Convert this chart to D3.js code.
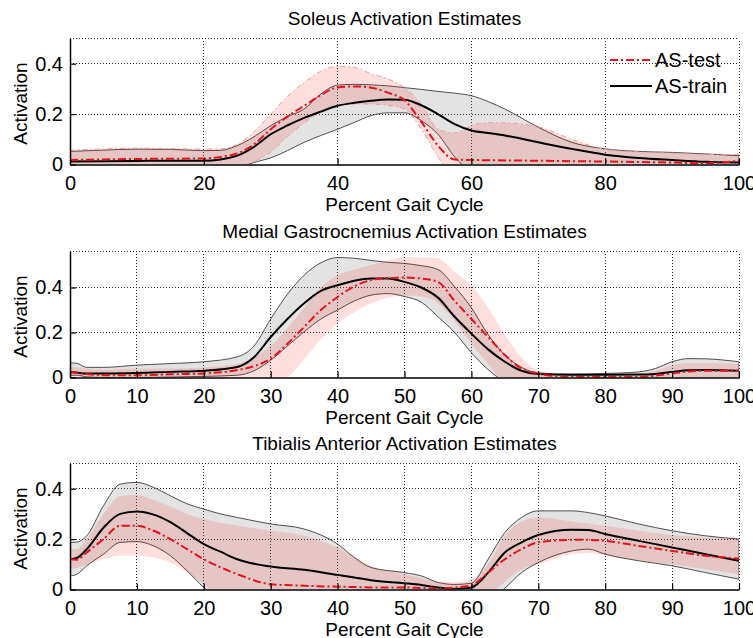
<!DOCTYPE html>
<html>
<head>
<meta charset="utf-8">
<script src="https://cdn.jsdelivr.net/npm/d3@7"></script>
<style>
  body { margin: 0; background: #fff; }
  svg text { font-family: "Liberation Sans", Arial, sans-serif; fill: #000; }
</style>
</head>
<body>
<div id="chart"></div>
<script>
// percent gait cycle sample points + mean / band edges

// Soleus
const soleusX = [0,5,10,15,20,22.5,25,27.5,30,32.5,35,37.5,40,42.5,45,47.5,50,52.5,55,57.5,60,62.5,65,70,75,80,85,90,95,100];
const soleusTrain = [0.012,0.013,0.014,0.015,0.015,0.02,0.035,0.07,0.12,0.155,0.185,0.21,0.233,0.245,0.253,0.258,0.257,0.235,0.2,0.16,0.135,0.125,0.115,0.088,0.062,0.039,0.026,0.018,0.011,0.008];
const soleusTrainUp = [0.052,0.057,0.061,0.06,0.055,0.056,0.075,0.11,0.154,0.19,0.22,0.28,0.315,0.318,0.316,0.312,0.305,0.298,0.29,0.283,0.273,0.25,0.22,0.148,0.088,0.062,0.052,0.048,0.042,0.035];
const soleusTrainLo = [-0.03,-0.03,-0.03,-0.03,-0.03,-0.025,-0.015,0.008,0.026,0.055,0.088,0.115,0.14,0.167,0.194,0.205,0.205,0.174,0.12,0.03,-0.03,-0.05,-0.06,-0.07,-0.06,-0.05,-0.04,-0.03,-0.03,-0.03];
const soleusTest = [0.018,0.02,0.022,0.023,0.024,0.03,0.044,0.08,0.14,0.19,0.233,0.275,0.306,0.31,0.305,0.285,0.255,0.17,0.075,0.02,0.018,0.017,0.016,0.015,0.013,0.012,0.01,0.008,0.005,0.015];
const soleusTestUp = [0.057,0.062,0.065,0.063,0.061,0.062,0.08,0.13,0.2,0.27,0.325,0.37,0.39,0.385,0.36,0.34,0.305,0.24,0.14,0.125,0.155,0.166,0.165,0.15,0.1,0.06,0.05,0.045,0.04,0.04];
const soleusTestLo = [-0.02,-0.02,-0.02,-0.02,-0.02,-0.02,-0.01,0.01,0.05,0.11,0.165,0.21,0.235,0.24,0.24,0.235,0.22,0.14,0.03,-0.05,-0.06,-0.06,-0.06,-0.06,-0.05,-0.05,-0.04,-0.04,-0.03,-0.01];

// Medial Gastrocnemius
const gastX = [0,1,2.5,5,10,15,20,25,27.5,30,32.5,35,37.5,40,42.5,45,47.5,50,52.5,55,57.5,60,62.5,65,67.5,70,75,80,85,87.5,90,92.5,95,100];
const gastTrain = [0.025,0.022,0.018,0.018,0.02,0.025,0.03,0.047,0.09,0.18,0.26,0.33,0.385,0.41,0.43,0.44,0.44,0.425,0.4,0.355,0.27,0.195,0.125,0.07,0.03,0.015,0.012,0.012,0.013,0.016,0.025,0.032,0.033,0.03];
const gastTrainUp = [0.065,0.063,0.045,0.045,0.055,0.062,0.07,0.092,0.14,0.26,0.37,0.455,0.51,0.533,0.53,0.52,0.512,0.507,0.497,0.48,0.403,0.31,0.19,0.1,0.045,0.02,0.015,0.018,0.025,0.04,0.07,0.084,0.083,0.07];
const gastTrainLo = [0.01,0.01,0.003,0,0,0.002,0.005,0.01,0.03,0.077,0.14,0.203,0.26,0.3,0.34,0.366,0.373,0.36,0.335,0.27,0.2,0.11,0.035,-0.02,-0.05,-0.05,-0.05,-0.04,-0.03,-0.02,-0.01,-0.005,-0.01,-0.01];
const gastTest = [0.024,0.02,0.015,0.01,0.01,0.014,0.018,0.033,0.05,0.084,0.15,0.225,0.3,0.358,0.405,0.433,0.442,0.444,0.44,0.425,0.34,0.26,0.18,0.1,0.04,0.018,0.002,0.002,0.002,0.008,0.018,0.027,0.03,0.03];
const gastTestUp = [0.05,0.045,0.04,0.035,0.04,0.04,0.045,0.06,0.09,0.14,0.22,0.31,0.4,0.455,0.48,0.5,0.52,0.535,0.535,0.53,0.47,0.41,0.31,0.19,0.09,0.03,0.01,0.01,0.015,0.03,0.055,0.065,0.065,0.06];
const gastTestLo = [-0.01,-0.01,-0.01,-0.015,-0.015,-0.015,-0.02,-0.02,-0.03,-0.03,0,0.08,0.17,0.24,0.29,0.33,0.355,0.365,0.36,0.33,0.25,0.15,0.06,-0.02,-0.03,-0.03,-0.02,-0.02,-0.02,-0.015,-0.01,-0.005,0,0];

// Tibialis Anterior
const tibX = [0,1,2.5,5,7.5,10,12.5,15,17.5,20,22.5,25,30,35,40,42.5,45,50,52.5,55,57.5,60,62.5,65,67.5,70,75,77.5,80,85,90,95,100];
const tibTrain = [0.12,0.125,0.16,0.245,0.3,0.31,0.297,0.267,0.224,0.18,0.15,0.12,0.091,0.078,0.058,0.048,0.037,0.025,0.018,0.008,0.002,0.008,0.067,0.147,0.187,0.216,0.237,0.236,0.22,0.193,0.167,0.14,0.114];
const tibTrainUp = [0.187,0.188,0.213,0.332,0.418,0.425,0.405,0.372,0.34,0.319,0.3,0.286,0.26,0.24,0.18,0.127,0.087,0.067,0.054,0.028,0.02,0.025,0.12,0.226,0.286,0.312,0.312,0.305,0.292,0.26,0.233,0.213,0.2];
const tibTrainLo = [0.054,0.06,0.094,0.14,0.187,0.19,0.173,0.134,0.074,0.008,-0.04,-0.06,-0.08,-0.08,-0.08,-0.08,-0.08,-0.08,-0.08,-0.08,-0.08,-0.08,-0.05,0.005,0.067,0.107,0.153,0.16,0.14,0.114,0.094,0.067,0.041];
const tibTest = [0.12,0.118,0.147,0.2,0.253,0.253,0.233,0.2,0.16,0.12,0.088,0.061,0.021,0.015,0.011,0.01,0.008,0.008,0.006,0.004,0.008,0.017,0.067,0.12,0.16,0.187,0.197,0.197,0.193,0.173,0.153,0.134,0.123];
const tibTestUp = [0.16,0.16,0.2,0.3,0.37,0.375,0.355,0.33,0.3,0.28,0.265,0.253,0.233,0.213,0.167,0.13,0.094,0.061,0.045,0.03,0.03,0.04,0.1,0.213,0.27,0.286,0.27,0.262,0.253,0.233,0.216,0.206,0.2];
const tibTestLo = [0.08,0.085,0.1,0.12,0.134,0.134,0.127,0.107,0.067,0.02,-0.03,-0.05,-0.05,-0.05,-0.05,-0.05,-0.05,-0.05,-0.05,-0.05,-0.05,-0.04,-0.02,0.03,0.08,0.1,0.14,0.145,0.135,0.115,0.1,0.08,0.06];

const titles = ["Soleus Activation Estimates", "Medial Gastrocnemius Activation Estimates", "Tibialis Anterior Activation Estimates"];
const xTicks20 = [0,20,40,60,80,100];
const xTicks10 = [0,10,20,30,40,50,60,70,80,90,100];
const yTicks = [0,0.2,0.4];
const yMaxes = [0.5, 0.56, 0.5];
const legendLabels = ["AS-test", "AS-train"];

const width = 753, height = 638;
const left = 70, right = 739, plotH = 126;
const tops = [38.5, 251.5, 463.5];
const font = "'Liberation Sans', Arial, sans-serif";

const RED = "#e8111a";

const panels = [
  { x: soleusX, tr: soleusTrain, trU: soleusTrainUp, trL: soleusTrainLo, te: soleusTest, teU: soleusTestUp, teL: soleusTestLo, xTicks: xTicks20, edge: true },
  { x: gastX, tr: gastTrain, trU: gastTrainUp, trL: gastTrainLo, te: gastTest, teU: gastTestUp, teL: gastTestLo, xTicks: xTicks10, edge: false },
  { x: tibX, tr: tibTrain, trU: tibTrainUp, trL: tibTrainLo, te: tibTest, teU: tibTestUp, teL: tibTestLo, xTicks: xTicks10, edge: false }
];

const svg = d3.select("#chart")
  .append("svg")
  .attr("width", width)
  .attr("height", height);

const x = d3.scaleLinear().domain([0, 100]).range([left, right]);

panels.forEach((p, i) => {
  const g = svg.append("g").attr("transform", `translate(0, ${tops[i]})`);
  const y = d3.scaleLinear().domain([0, yMaxes[i]]).range([plotH, 0]);

  g.append("clipPath")
    .attr("id", "clip" + i)
    .append("rect")
    .attr("x", x(0))
    .attr("y", y(yMaxes[i]))
    .attr("width", x(100) - x(0))
    .attr("height", y(0) - y(yMaxes[i]));

  // dotted grid + top/right border
  const grid = g.append("g")
    .attr("stroke", "#222")
    .attr("stroke-width", 1)
    .attr("stroke-dasharray", "1,2")
    .attr("shape-rendering", "crispEdges");
  p.xTicks.filter(v => v > 0).forEach(v => {
    grid.append("line").attr("x1", x(v)).attr("x2", x(v)).attr("y1", y(0)).attr("y2", y(yMaxes[i]));
  });
  yTicks.filter(v => v > 0).concat([yMaxes[i]]).forEach(v => {
    grid.append("line").attr("x1", x(0)).attr("x2", x(100)).attr("y1", y(v)).attr("y2", y(v));
  });

  const rows = p.x.map((v, k) => ({
    x: v, tr: p.tr[k], trU: p.trU[k], trL: p.trL[k], te: p.te[k], teU: p.teU[k], teL: p.teL[k]
  }));

  const curve = d3.curveMonotoneX;
  const plot = g.append("g").attr("clip-path", `url(#clip${i})`);

  // train band (gray, outlined)
  plot.append("path")
    .datum(rows)
    .attr("fill", "#808080")
    .attr("fill-opacity", 0.22)
    .attr("stroke", "#3c3c3c")
    .attr("stroke-width", 0.9)
    .attr("d", d3.area().curve(curve).x(d => x(d.x)).y0(d => y(d.trL)).y1(d => y(d.trU)));

  // test band (pink)
  plot.append("path")
    .datum(rows)
    .attr("fill", "#ff0000")
    .attr("fill-opacity", 0.13)
    .attr("d", d3.area().curve(curve).x(d => x(d.x)).y0(d => y(d.teL)).y1(d => y(d.teU)));

  if (p.edge) {
    ["teU", "teL"].forEach(k => {
      plot.append("path")
        .datum(rows)
        .attr("fill", "none")
        .attr("stroke", "#f19a9a")
        .attr("stroke-width", 1)
        .attr("stroke-dasharray", "5,3,1.5,3")
        .attr("d", d3.line().curve(curve).x(d => x(d.x)).y(d => y(d[k])));
    });
  }

  // means
  plot.append("path")
    .datum(rows)
    .attr("fill", "none")
    .attr("stroke", "#000")
    .attr("stroke-width", 2)
    .attr("d", d3.line().curve(curve).x(d => x(d.x)).y(d => y(d.tr)));

  plot.append("path")
    .datum(rows)
    .attr("fill", "none")
    .attr("stroke", RED)
    .attr("stroke-width", 2)
    .attr("stroke-dasharray", "8,3,2,3")
    .attr("d", d3.line().curve(curve).x(d => x(d.x)).y(d => y(d.te)));

  // axes (ticks point inward)
  const xAxis = g.append("g")
    .attr("transform", `translate(0, ${y(0)})`)
    .call(d3.axisBottom(x).tickValues(p.xTicks).tickSize(-6).tickSizeOuter(0).tickPadding(11));
  const yAxis = g.append("g")
    .attr("transform", `translate(${x(0)}, 0)`)
    .call(d3.axisLeft(y).tickValues(yTicks).tickFormat(d => d === 0 ? "0" : d3.format(".1f")(d))
      .tickSize(-6).tickSizeOuter(0).tickPadding(7));
  [xAxis, yAxis].forEach(a => {
    a.attr("font-family", font).attr("font-size", 20);
    a.select(".domain").attr("stroke", "#000").attr("stroke-width", 1.5);
    a.selectAll(".tick line").attr("stroke", "#000").attr("stroke-width", 1.2);
  });

  g.append("text")
    .attr("x", (x(0) + x(100)) / 2)
    .attr("y", -14)
    .attr("text-anchor", "middle")
    .attr("font-size", 19)
    .text(titles[i]);

  g.append("text")
    .attr("x", (x(0) + x(100)) / 2)
    .attr("y", y(0) + 46.5)
    .attr("text-anchor", "middle")
    .attr("font-size", 19)
    .text("Percent Gait Cycle");

  g.append("text")
    .attr("transform", `translate(27, ${plotH / 2 + 2}) rotate(-90)`)
    .attr("text-anchor", "middle")
    .attr("font-size", 19)
    .text("Activation");

  if (i === 0) {
    const lg = g.append("g").attr("transform", "translate(610, 21.5)");
    legendLabels.forEach((lab, k) => {
      lg.append("line")
        .attr("x1", 0).attr("x2", 42)
        .attr("y1", k * 26).attr("y2", k * 26)
        .attr("stroke", k === 0 ? RED : "#000")
        .attr("stroke-width", 2)
        .attr("stroke-dasharray", k === 0 ? "8,3,2,3" : null);
      lg.append("text")
        .attr("x", 45)
        .attr("y", k * 26)
        .attr("dy", "0.35em")
        .attr("font-size", 20)
        .text(lab);
    });
  }
});
</script>
</body>
</html>
